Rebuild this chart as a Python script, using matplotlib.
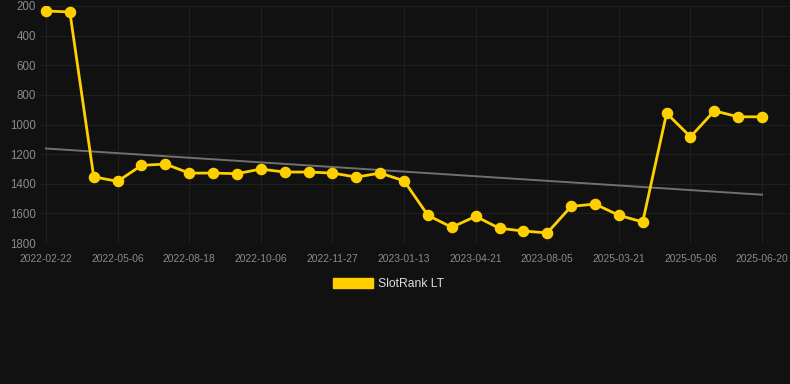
import numpy as np
import matplotlib
matplotlib.use("Agg")
from matplotlib import pyplot as plt
from matplotlib.patches import Patch

dates = ["2022-02-22", "2022-03-16", "2022-04-08", "2022-05-06", "2022-05-29",
         "2022-06-20", "2022-08-18", "2022-09-01", "2022-09-20", "2022-10-06",
         "2022-10-22", "2022-11-10", "2022-11-27", "2022-12-12", "2022-12-28",
         "2023-01-13", "2023-02-05", "2023-03-10", "2023-04-21", "2023-05-20",
         "2023-06-30", "2023-08-05", "2023-10-01", "2024-12-10", "2025-03-21",
         "2025-04-05", "2025-04-20", "2025-05-06", "2025-05-21", "2025-06-05",
         "2025-06-20"]
ranks = [234, 240, 1353, 1384, 1276, 1267, 1328, 1328, 1332, 1301,
         1321, 1321, 1328, 1355, 1328, 1380, 1613, 1694, 1620, 1701,
         1719, 1732, 1553, 1537, 1613, 1658, 924, 1083, 908, 948, 948]
# tendance (debut, fin)
trend = [1162, 1474]
tick_every = 3

bg = "#111111"
yellow = "#FFD000"
txt = "#8a8a8a"

plt.rcParams['font.family'] = ['Liberation Sans', 'DejaVu Sans']

fig = plt.figure(figsize=(7.9, 3.84), dpi=100, facecolor=bg)
ax = fig.add_axes([40/790, 1 - 243/384, 750/790, 237/384])
ax.set_facecolor(bg)

x = np.arange(len(ranks))
ax.plot([x[0], x[-1]], trend, color="#707070", lw=1.4, zorder=2)
ax.plot(x, ranks, color=yellow, lw=2.0, marker="o", ms=7.3, zorder=3)

ax.set_ylim(1800, 200)
ax.set_xlim(-0.25, len(ranks) - 1 + 1.17)
ax.set_yticks(range(200, 1801, 200))
ax.set_xticks(x[::tick_every])
ax.set_xticklabels(dates[::tick_every])
ax.tick_params(axis="y", colors=txt, labelsize=8.3, length=0, pad=3)
ax.tick_params(axis="x", colors=txt, labelsize=7.4, length=0, pad=8)
ax.grid(True, color="#1f1f1f", lw=0.8)
for s in ax.spines.values():
    s.set_visible(False)

leg = fig.legend(handles=[Patch(facecolor=yellow, edgecolor=yellow)], labels=["SlotRank LT"],
                 loc="center", bbox_to_anchor=(0.492, 1 - 284/384), frameon=False,
                 handlelength=3.3, handleheight=0.9, handletextpad=0.4, fontsize=8.7)
for t in leg.get_texts():
    t.set_color("#dddddd")

fig.savefig("out.png", dpi=100, facecolor=bg)
